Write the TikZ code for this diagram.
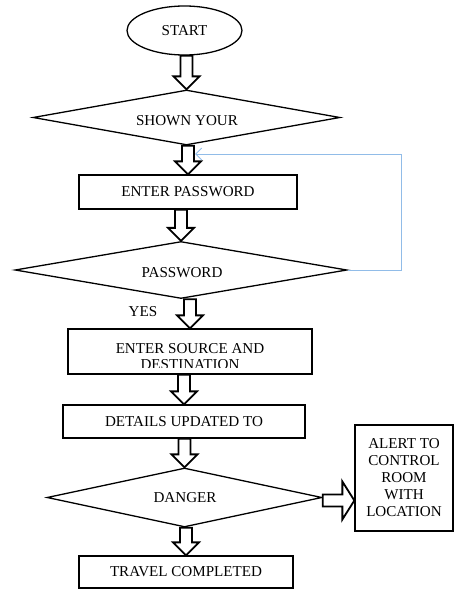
\documentclass[tikz,border=0pt]{standalone}
\usepackage{fontspec}
\setmainfont{Liberation Serif}
\usetikzlibrary{shapes.geometric,calc,arrows.meta}
\definecolor{fbblue}{RGB}{145,188,232}
\tikzset{
  box/.style={draw=black,line width=1.3pt,fill=white,inner sep=0pt},
  rbox/.style={box,rectangle},
  dbox/.style={box,diamond,aspect=5},
  lbl/.style={font=\fontsize{15.1}{17}\selectfont,inner sep=0pt,align=center},
  blk/.style={draw=black,line width=1.8pt,fill=white,line join=miter},
  fb/.style={draw=fbblue,line width=1pt,-{Straight Barb[length=6pt,width=12pt]}}
}
\newcommand\blkdown[2]{%
  \path let \p1=(#1.south), \p2=(#2.north) in
    [blk] (\x2-6pt,\y1) -- (\x2-6pt,\y2+13pt) -- (\x2-13pt,\y2+13pt) -- (\x2,\y2)
      -- (\x2+13pt,\y2+13pt) -- (\x2+6pt,\y2+13pt) -- (\x2+6pt,\y1) -- cycle;}
\begin{document}
\begin{tikzpicture}[x=1pt,y=-1pt]
\useasboundingbox (0,0) rectangle (454,589);
% nodes
\node[box,ellipse,minimum width=115pt,minimum height=49pt,lbl] (start) at (184.5,30.5) {START};
\node[dbox,minimum width=307pt,minimum height=55pt] (d1) at (186.5,117.5) {};
\node[lbl] (d1t) at (187,121) {SHOWN YOUR};
\node[rbox,minimum width=218pt,minimum height=34pt,lbl] (pw) at (188,192) {ENTER PASSWORD};
\node[dbox,minimum width=332pt,minimum height=57pt] (d2) at (181,270) {};
\node[lbl] (d2t) at (182,273) {PASSWORD};
\node[lbl] (yes) at (143,312) {YES};
\node[rbox,minimum width=244pt,minimum height=45pt] (src) at (190,351.5) {};
\begin{scope}
  \clip (68,329) rectangle (312,367.8);
  \node[lbl,anchor=base] (srct1) at (190,353) {ENTER SOURCE AND};
  \node[lbl,anchor=base] (srct2) at (190,369) {DESTINATION};
\end{scope}
\node[rbox,minimum width=242pt,minimum height=33pt,lbl] (det) at (184,421.5) {DETAILS UPDATED TO};
\node[dbox,minimum width=275pt,minimum height=59pt] (d3) at (184.5,497.5) {};
\node[lbl] (d3t) at (185,498) {DANGER};
\node[rbox,minimum width=98pt,minimum height=106pt,lbl] (alert) at (404,478)
  {ALERT TO\\CONTROL\\ROOM\\WITH\\LOCATION};
\node[rbox,minimum width=214pt,minimum height=32pt,lbl] (travel) at (186,572) {TRAVEL COMPLETED};
% block arrows
\blkdown{start}{d1}
\blkdown{d1}{pw}
\blkdown{pw}{d2}
\blkdown{d2}{src}
\blkdown{src}{det}
\blkdown{det}{d3}
\blkdown{d3}{travel}
\path let \p1=(d3.east), \p2=(alert.west) in
  [blk] (\x1,\y1+3pt) -- (\x2-12pt,\y1+3pt) -- (\x2-12pt,\y1+16pt) -- (\x2,\y1-3pt)
    -- (\x2-12pt,\y1-22pt) -- (\x2-12pt,\y1-9pt) -- (\x1,\y1-9pt) -- cycle;
% feedback line
\coordinate (fbend) at (195,154);
\draw[fb] (d2.east) -- (401,270) -- (401,154) -- (fbend);
\end{tikzpicture}
\end{document}
